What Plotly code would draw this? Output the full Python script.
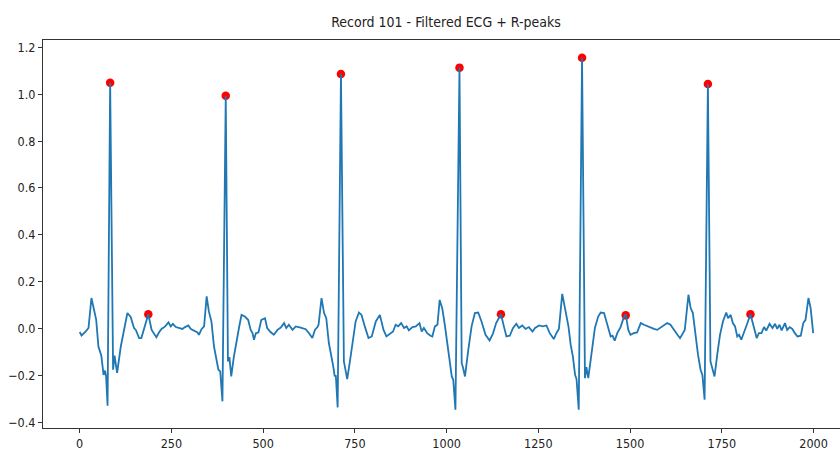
import plotly.graph_objects as go

# ---- data ----
ecg_sample = [0, 5, 16, 24, 32, 41, 45, 51, 59, 65, 69, 72, 76, 83, 91, 95, 102, 112, 121, 130,
              139, 148, 153, 162, 168, 178, 187, 196, 202, 209, 216, 223, 233, 242, 248, 254, 262,
              271, 280, 287, 296, 303, 311, 321, 325, 332, 339, 346, 352, 359, 366, 372, 378, 383,
              389, 398, 404, 408, 413, 420, 430, 434, 441, 450, 459, 466, 471, 475, 480, 487, 495,
              505, 511, 520, 529, 539, 548, 557, 563, 570, 580, 589, 602, 616, 625, 634, 641, 648,
              651, 659, 666, 672, 679, 687, 691, 695, 698, 703, 712, 720, 724, 729, 737, 745, 752,
              761, 768, 777, 787, 796, 807, 818, 828, 836, 845, 854, 861, 868, 876, 884, 891, 897,
              907, 916, 926, 932, 938, 947, 956, 961, 968, 975, 981, 988, 995, 1002, 1008, 1014,
              1018, 1024, 1035, 1041, 1045, 1050, 1059, 1068, 1077, 1086, 1095, 1106, 1117, 1126,
              1135, 1148, 1156, 1163, 1172, 1181, 1190, 1197, 1206, 1215, 1224, 1234, 1241, 1252,
              1262, 1272, 1281, 1292, 1299, 1306, 1315, 1324, 1332, 1338, 1344, 1350, 1354, 1360,
              1369, 1377, 1381, 1386, 1395, 1404, 1413, 1420, 1429, 1438, 1442, 1447, 1452, 1458,
              1465, 1474, 1482, 1488, 1495, 1501, 1510, 1519, 1529, 1538, 1547, 1556, 1565, 1574,
              1583, 1592, 1601, 1610, 1619, 1629, 1636, 1642, 1649, 1659, 1665, 1671, 1679, 1685,
              1692, 1697, 1703, 1712, 1719, 1724, 1730, 1738, 1745, 1753, 1762, 1767, 1774, 1780,
              1786, 1792, 1797, 1803, 1810, 1819, 1828, 1837, 1845, 1851, 1858, 1865, 1871, 1880,
              1888, 1895, 1901, 1907, 1913, 1922, 1928, 1935, 1942, 1949, 1956, 1965, 1972, 1978,
              1986, 1992, 1999]

ecg_value = [-0.015, -0.03, -0.013, 0.002, 0.13, 0.073, 0.037, -0.077, -0.116, -0.198, -0.18,
             -0.205, -0.33, 1.049, -0.176, -0.116, -0.19, -0.077, 0.002, 0.066, 0.049, 0.002,
             -0.006, -0.041, -0.041, 0.016, 0.061, -0.006, -0.02, -0.037, -0.017, -0.002, 0.009,
             0.026, 0.009, 0.02, 0.006, 0.002, -0.002, 0.006, 0.013, -0.002, -0.009, -0.017,
             -0.027, -0.003, 0.009, 0.137, 0.073, 0.03, -0.077, -0.126, -0.176, -0.183, -0.311,
             0.994, -0.141, -0.122, -0.205, -0.122, -0.02, 0.002, 0.058, 0.051, 0.037, -0.006,
             -0.02, -0.048, -0.02, -0.017, 0.037, 0.044, 0.002, -0.015, -0.027, -0.006, 0.004,
             0.023, 0.002, 0.016, -0.006, 0.009, 0.004, -0.003, -0.02, -0.041, -0.006, 0.006,
             0.016, 0.13, 0.066, 0.044, -0.062, -0.119, -0.162, -0.205, -0.2, -0.337, 1.087,
             -0.141, -0.169, -0.216, -0.134, -0.041, 0.03, 0.068, 0.058, 0.009, -0.041, -0.034,
             0.03, 0.058, -0.006, -0.034, -0.023, -0.013, 0.016, 0.009, 0.023, 0.002, 0.009,
             -0.008, 0.006, 0.009, 0.023, -0.013, 0.002, -0.02, -0.031, -0.034, 0.009, 0.016,
             0.122, 0.087, 0.016, -0.062, -0.126, -0.205, -0.219, -0.347, 1.114, -0.148, -0.169,
             -0.205, -0.091, 0.009, 0.066, 0.068, 0.03, -0.027, -0.051, -0.023, 0.023, 0.061,
             0.009, -0.034, -0.031, 0.002, 0.02, 0.002, 0.013, -0.002, 0.006, -0.013, 0.002,
             0.013, 0.009, 0.013, -0.02, -0.045, -0.02, -0.002, 0.148, 0.08, 0.009, -0.069,
             -0.119, -0.198, -0.216, -0.347, 1.156, -0.212, -0.165, -0.212, -0.098, 0.002, 0.051,
             0.068, 0.066, 0.009, -0.006, -0.034, -0.031, -0.052, -0.02, 0.006, 0.044, 0.061,
             -0.006, -0.027, -0.02, -0.017, 0.023, 0.016, 0.009, 0.002, -0.002, -0.006, 0.004,
             0.016, 0.023, 0.016, -0.006, -0.027, -0.041, -0.027, -0.006, 0.144, 0.087, 0.066,
             -0.048, -0.112, -0.176, -0.198, -0.304, 1.044, -0.141, -0.176, -0.205, -0.105,
             -0.027, 0.03, 0.068, 0.044, 0.058, 0.023, 0.009, -0.034, -0.027, -0.048, -0.02,
             0.02, 0.061, 0.002, -0.041, -0.02, -0.02, 0.006, -0.009, 0.02, 0.002, 0.02, -0.002,
             0.016, -0.008, 0.023, -0.006, 0.006, -0.002, -0.02, -0.034, -0.031, 0.023, 0.037,
             0.13, 0.087, -0.02]

r_peak_sample = [83, 187, 398, 712, 1035, 1148, 1369, 1488, 1712, 1828]
r_peak_value = [1.049, 0.061, 0.994, 1.087, 1.114, 0.061, 1.156, 0.056, 1.044, 0.061]

x_ticks = [0, 250, 500, 750, 1000, 1250, 1500, 1750, 2000]
y_ticks = [-0.4, -0.2, 0.0, 0.2, 0.4, 0.6, 0.8, 1.0, 1.2]
title_text = "Record 101 - Filtered ECG + R-peaks"

FONT = "Liberation Sans Narrow, DejaVu Sans Condensed, DejaVu Sans, sans-serif"

fig = go.Figure()
fig.add_trace(go.Scatter(x=r_peak_sample, y=r_peak_value, mode="markers",
                         marker=dict(color="#ff0000", size=8.5, line=dict(width=0)),
                         showlegend=False, hoverinfo="skip"))
fig.add_trace(go.Scatter(x=ecg_sample, y=ecg_value, mode="lines",
                         line=dict(color="#1f77b4", width=1.8),
                         showlegend=False, hoverinfo="skip"))

axis_common = dict(showgrid=False, zeroline=False, showline=True, linecolor="#333333",
                   linewidth=1, ticks="outside", ticklen=4, tickwidth=1, tickcolor="#333333",
                   tickfont=dict(family=FONT, size=12.5, color="#222222"))

fig.update_layout(
    width=840, height=458,
    margin=dict(l=43, r=0, t=40, b=30, pad=0),
    paper_bgcolor="white", plot_bgcolor="white",
    title=dict(text=title_text, xref="paper", x=0.5056, xanchor="center",
               yref="container", y=0.952, yanchor="middle",
               font=dict(family=FONT, size=14, color="#222222")),
    xaxis=dict(range=[-100, 2072], tickvals=x_ticks, ticktext=[str(v) for v in x_ticks],
               mirror=True, **axis_common),
    yaxis=dict(range=[-0.425, 1.232], tickvals=y_ticks, tickformat=".1f", mirror=False,
               **axis_common),
)

fig.write_html("out.html")
